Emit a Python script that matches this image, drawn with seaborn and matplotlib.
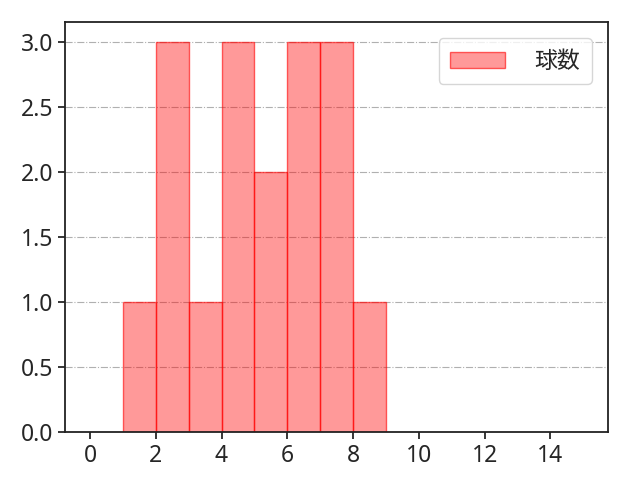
import matplotlib
matplotlib.use("Agg")
import matplotlib.pyplot as plt
import seaborn as sns
import pandas as pd

# histogram bins (left edges) and counts
bin_left = [1, 2, 3, 4, 5, 6, 7, 8]
counts = [1, 3, 1, 3, 2, 3, 3, 1]
bin_edges = [1, 2, 3, 4, 5, 6, 7, 8, 9]
x_ticks = [0, 2, 4, 6, 8, 10, 12, 14]
label = "球数"

sns.set_style("ticks")
plt.rcParams["font.family"] = ["Noto Sans", "Noto Sans CJK JP", "DejaVu Sans"]

df = pd.DataFrame({"value": [b + 0.5 for b in bin_left], "count": counts})

fig, ax = plt.subplots(figsize=(6.4, 4.8), dpi=100)
fig.subplots_adjust(left=0.102, right=0.95, bottom=0.1, top=0.954)

sns.histplot(data=df, x="value", weights="count", bins=bin_edges,
             color="red", alpha=0.4, linewidth=1.0,
             label=label, ax=ax)
for p in ax.patches:
    p.set_edgecolor((1, 0, 0, 0.6))

ax.set_xlim(-0.75, 15.75)
ax.set_ylim(0, 3.15)
ax.set_xticks(x_ticks)
ax.set_yticks([0, 0.5, 1.0, 1.5, 2.0, 2.5, 3.0])
ax.yaxis.grid(True, linestyle="-.", color="#b0b0b0", linewidth=0.8)
ax.set_axisbelow(True)
ax.set_xlabel("")
ax.set_ylabel("")
ax.tick_params(labelsize=16.5, width=1.3, length=5)
for s in ax.spines.values():
    s.set_visible(True)
    s.set_color("#222222")
    s.set_linewidth(1.3)
ax.legend(loc="upper right", handlelength=2.4, handletextpad=1.3,
          borderpad=0.5, borderaxespad=0.7,
          prop={"family": ["Noto Sans CJK JP"], "size": 16.5})

fig.savefig("out.png", dpi=100)
